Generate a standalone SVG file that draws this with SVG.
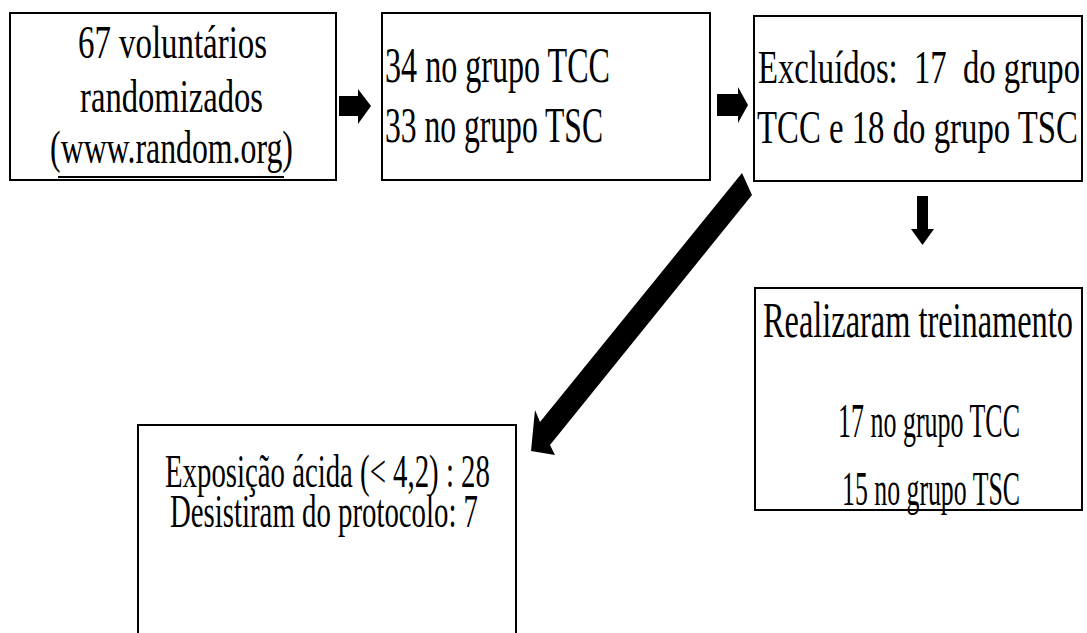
<svg xmlns="http://www.w3.org/2000/svg" width="1087" height="633" viewBox="0 0 1087 633">
<style>
.box{fill:#fff;stroke:#000;stroke-width:2}
.t{font-family:"Liberation Serif","Times New Roman",serif;font-size:46px;fill:#000;white-space:pre}
.b{font-size:50px}
.m{font-size:48px}
.arr{fill:#000;stroke:none}
</style>
<rect width="1087" height="633" fill="#fff"/>
<g id="n1">
<rect class="box" x="10" y="13" width="326" height="167"/>
<text class="t" transform="translate(172.5,58) scale(0.715,1)" text-anchor="middle" textLength="264.5" lengthAdjust="spacingAndGlyphs">67 voluntários</text>
<text class="t" transform="translate(171.5,112) scale(0.709,1)" text-anchor="middle" textLength="258" lengthAdjust="spacingAndGlyphs">randomizados</text>
<text class="t" transform="translate(171.5,163) scale(0.684,1)" text-anchor="middle" textLength="355" lengthAdjust="spacingAndGlyphs">(www.random.org)</text>
<line x1="58" y1="177" x2="284" y2="177" stroke="#000" stroke-width="2"/>
</g>
<g id="n2">
<rect class="box" x="382" y="13" width="328" height="167"/>
<text class="t b" transform="translate(385,82) scale(0.64,1)" textLength="351.6" lengthAdjust="spacingAndGlyphs">34 no grupo TCC</text>
<text class="t b" transform="translate(385,142) scale(0.63,1)" textLength="346" lengthAdjust="spacingAndGlyphs">33 no grupo TSC</text>
</g>
<g id="n3">
<rect class="box" x="754" y="16" width="328" height="165"/>
<text class="t" transform="translate(758,83) scale(0.71,1)" textLength="453.5" lengthAdjust="spacingAndGlyphs">Excluídos:  17  do grupo</text>
<text class="t" transform="translate(757,143) scale(0.712,1)" textLength="450.8" lengthAdjust="spacingAndGlyphs">TCC e 18 do grupo TSC</text>
</g>
<g id="n4">
<rect class="box" x="755" y="288" width="327" height="222"/>
<text class="t b" transform="translate(763,337) scale(0.647,1)" textLength="479" lengthAdjust="spacingAndGlyphs">Realizaram treinamento</text>
<text class="t m" transform="translate(838,437) scale(0.54,1)" textLength="337" lengthAdjust="spacingAndGlyphs">17 no grupo TCC</text>
<text class="t m" transform="translate(842,505) scale(0.536,1)" textLength="332" lengthAdjust="spacingAndGlyphs">15 no grupo TSC</text>
</g>
<g id="n5">
<rect class="box" x="138" y="425" width="378" height="220"/>
<text class="t" transform="translate(165,487) scale(0.626,1)" textLength="519" lengthAdjust="spacingAndGlyphs">Exposição ácida (&lt; 4,2) : 28</text>
<text class="t" transform="translate(170,527) scale(0.626,1)" textLength="492" lengthAdjust="spacingAndGlyphs">Desistiram do protocolo: 7</text>
</g>
<g id="connectors">
<polygon class="arr" points="339,96 358,96 358,89 371,106 358,124 358,116 339,116"/>
<polygon class="arr" points="717,94 738,94 738,87 748,105 738,123 738,116 717,116"/>
<polygon class="arr" points="917,196 928,196 928,229 934,229 922.5,245 911,229 917,229"/>
<polygon class="arr" points="742,173 752,195 550,445 555,455 531,451 535,410 540,422"/>
</g>
</svg>
